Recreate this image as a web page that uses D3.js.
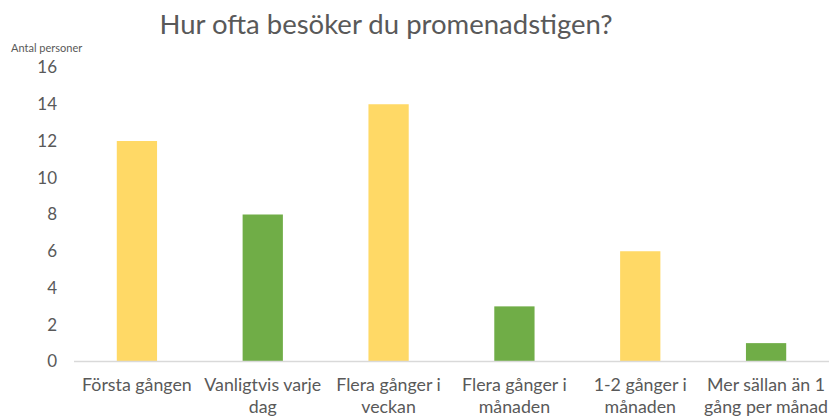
<!DOCTYPE html>
<html>
<head>
<meta charset="utf-8">
<script src="https://cdn.jsdelivr.net/npm/d3@7"></script>
<style>
  body { margin: 0; background: #fff; }
  text { font-family: Lato, "Open Sans", sans-serif; fill: #595959; }
</style>
</head>
<body>
<svg id="chart" width="829" height="416"></svg>
<script>
const categories = [
  "Första gången", "Vanligtvis varje dag", "Flera gånger i veckan",
  "Flera gånger i månaden", "1-2 gånger i månaden", "Mer sällan än 1 gång per månad"
];
// how the category labels wrap
const labelLines = [
  ["Första gången"], ["Vanligtvis varje", "dag"], ["Flera gånger i", "veckan"],
  ["Flera gånger i", "månaden"], ["1-2 gånger i", "månaden"], ["Mer sällan än 1", "gång per månad"]
];
const values = [12, 8, 14, 3, 6, 1];
const yTicks = [0, 2, 4, 6, 8, 10, 12, 14, 16];
const barColors = ["#FFD966", "#70AD47"];

const svg = d3.select("#chart"),
  margin = { top: 67.5, right: 0, bottom: 54.5, left: 74 },
  width = +svg.attr("width") - margin.left - margin.right,
  height = +svg.attr("height") - margin.top - margin.bottom;

const g = svg.append("g")
  .attr("transform", `translate(${margin.left},${margin.top})`);

const x = d3.scaleBand()
  .domain(categories)
  .range([0, width])
  .paddingInner(0.68)
  .paddingOuter(0.34);

const y = d3.scaleLinear()
  .domain([0, 16])
  .range([height, 0]);

// bars
g.selectAll("rect.bar")
  .data(values)
  .join("rect")
  .attr("class", "bar")
  .attr("x", (d, i) => x(categories[i]))
  .attr("width", x.bandwidth())
  .attr("y", d => y(d))
  .attr("height", d => y(0) - y(d))
  .attr("fill", (d, i) => barColors[i % 2]);

// y axis labels only
const yAxis = g.append("g")
  .call(d3.axisLeft(y).tickValues(yTicks).tickSize(0).tickPadding(17));
yAxis.select(".domain").remove();
yAxis.selectAll("text")
  .style("font-size", "17px")
  .style("font-family", "Lato, 'Open Sans', sans-serif")
  .attr("fill", "#595959");

// x axis line
g.append("line")
  .attr("x1", 0).attr("x2", width)
  .attr("y1", y(0)).attr("y2", y(0))
  .attr("stroke", "#d9d9d9")
  .attr("stroke-width", 1.3);

// category labels
const lbl = g.append("g")
  .selectAll("text")
  .data(categories)
  .join("text")
  .attr("text-anchor", "middle")
  .attr("transform", d => `translate(${x(d) + x.bandwidth() / 2},${y(0) + 29})`)
  .style("font-size", "17.8px");
lbl.selectAll("tspan")
  .data((d, i) => labelLines[i])
  .join("tspan")
  .attr("x", 0)
  .attr("dy", (d, i) => i === 0 ? 0 : 22)
  .text(d => d);

// title
svg.append("text")
  .attr("x", 386)
  .attr("y", 34)
  .attr("text-anchor", "middle")
  .style("font-size", "27.5px")
  .text("Hur ofta besöker du promenadstigen?");

// y axis title
svg.append("text")
  .attr("x", 11)
  .attr("y", 52)
  .style("font-size", "11px")
  .text("Antal personer");
</script>
</body>
</html>
